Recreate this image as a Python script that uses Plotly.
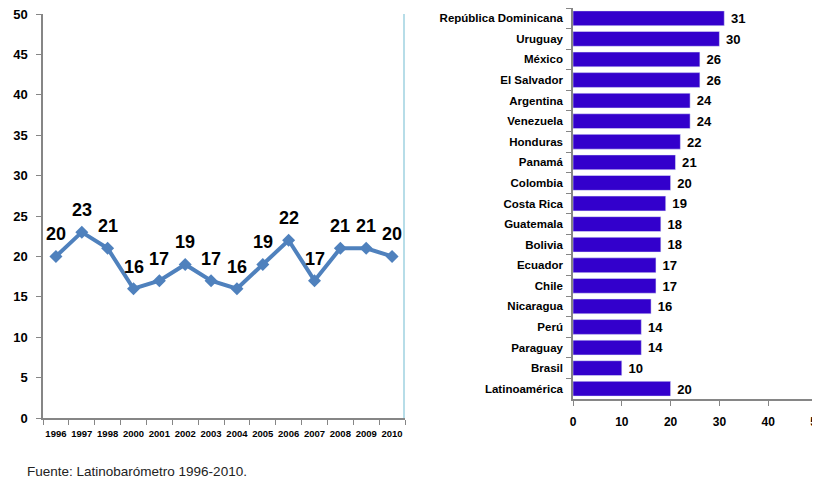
import plotly.graph_objects as go

years = ["1996", "1997", "1998", "2000", "2001", "2002", "2003", "2004",
         "2005", "2006", "2007", "2008", "2009", "2010"]
trend = [20, 23, 21, 16, 17, 19, 17, 16, 19, 22, 17, 21, 21, 20]

countries = ["República Dominicana", "Uruguay", "México", "El Salvador", "Argentina",
             "Venezuela", "Honduras", "Panamá", "Colombia", "Costa Rica", "Guatemala",
             "Bolivia", "Ecuador", "Chile", "Nicaragua", "Perú", "Paraguay", "Brasil",
             "Latinoamérica"]
country_vals = [31, 30, 26, 26, 24, 24, 22, 21, 20, 19, 18, 18, 17, 17, 16, 14, 14, 10, 20]

W, H = 820, 485
OFF = 8  # page body margin
FONT = "Liberation Sans, Arial, sans-serif"
AXC = "#868686"

fig = go.Figure()

fig.add_trace(go.Scatter(
    x=years, y=trend, mode="lines+markers",
    line=dict(color="#4F81BD", width=4),
    marker=dict(symbol="diamond", size=10, color="#4F81BD"),
    xaxis="x", yaxis="y", showlegend=False, cliponaxis=False,
))

fig.add_trace(go.Bar(
    y=countries, x=country_vals, orientation="h",
    marker=dict(color="#3300CC"),
    text=[" " + str(v) for v in country_vals], textposition="outside",
    textfont=dict(family=FONT, size=15, color="black", weight="bold"),
    xaxis="x2", yaxis="y2", showlegend=False, cliponaxis=False,
))

# category axis: annotations positioned by category index
line_labels = [dict(x=i, y=v, xref="x", yref="y", text=str(v), showarrow=False,
                    yshift=22, font=dict(family=FONT, size=18, color="black", weight="bold"))
               for i, v in enumerate(trend)]

def dom_x(a, b):
    return [(a - OFF) / W, (b - OFF) / W]

def dom_y(top, bottom):
    return [1 - (bottom - OFF) / H, 1 - (top - OFF) / H]

fig.update_layout(
    width=W, height=H,
    margin=dict(l=0, r=0, t=0, b=0, autoexpand=False),
    paper_bgcolor="white", plot_bgcolor="white",
    bargap=0.28,
    xaxis=dict(domain=dom_x(43, 405), type="category", anchor="y", automargin=False,
               range=[-0.5, len(years) - 0.5],
               showline=True, linecolor=AXC, linewidth=1.5,
               ticks="outside", ticklen=5, tickcolor=AXC, tickson="boundaries",
               showgrid=False, tickangle=0, ticklabelstandoff=6, ticklabeloverflow="allow",
               tickfont=dict(family=FONT, size=9.5, color="black", weight="bold")),
    yaxis=dict(domain=dom_y(14, 418), range=[0, 50], dtick=5, anchor="x", automargin=False,
               showline=True, linecolor=AXC, linewidth=1.5,
               ticks="outside", ticklen=5, tickcolor=AXC,
               showgrid=False, zeroline=False, ticklabelstandoff=6, ticklabeloverflow="allow",
               tickfont=dict(family=FONT, size=13, color="black", weight="bold")),
    xaxis2=dict(domain=dom_x(573, 817), range=[0, 50], dtick=10, anchor="y2", automargin=False,
                showline=True, linecolor=AXC, linewidth=1.5,
                ticks="outside", ticklen=5, tickcolor=AXC,
                showgrid=False, zeroline=False, ticklabelstandoff=6, ticklabeloverflow="allow",
                tickfont=dict(family=FONT, size=12, color="black", weight="bold")),
    yaxis2=dict(domain=dom_y(8, 399), type="category", anchor="x2", automargin=False,
                autorange="reversed",
                showline=True, linecolor=AXC, linewidth=1.5,
                ticks="outside", ticklen=5, tickcolor=AXC, tickson="boundaries",
                showgrid=False, ticklabelstandoff=6, ticklabeloverflow="allow",
                tickfont=dict(family=FONT, size=11.5, color="black", weight="bold")),
    shapes=[dict(type="line", xref="paper", yref="paper",
                 x0=(404 - OFF) / W, x1=(404 - OFF) / W,
                 y0=1 - (418 - OFF) / H, y1=1 - (14 - OFF) / H,
                 line=dict(color="#B7DDE8", width=2))],
    annotations=line_labels + [dict(text="Fuente: Latinobarómetro 1996-2010.",
                      xref="paper", yref="paper", x=(25 - OFF) / W, y=1 - (471 - OFF) / H,
                      xanchor="left", yanchor="middle", showarrow=False,
                      font=dict(family=FONT, size=13.5, color="#222222"))],
)

fig.write_html("out.html")
